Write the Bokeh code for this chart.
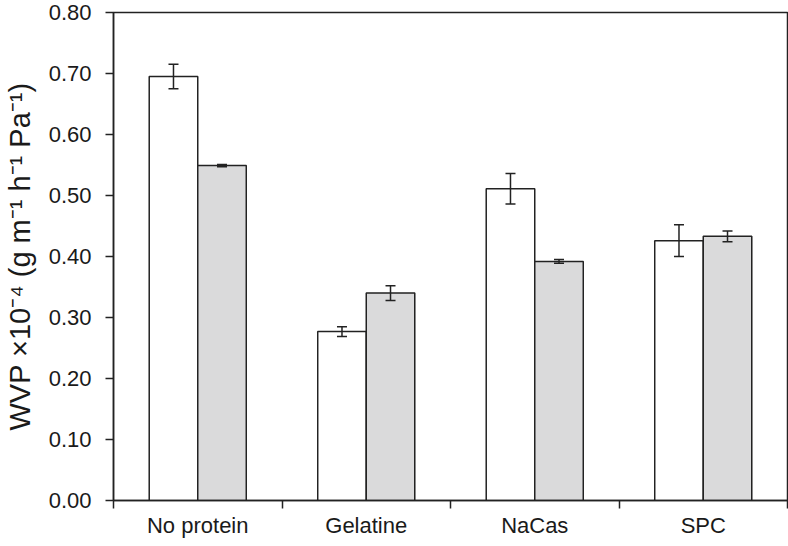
from bokeh.plotting import figure
from bokeh.models import (ColumnDataSource, Range1d, FixedTicker, NumeralTickFormatter,
                          Whisker, TeeHead)
from bokeh.embed import file_html
from bokeh.resources import INLINE

categories = ["No protein", "Gelatine", "NaCas", "SPC"]
white_vals = [0.695, 0.277, 0.511, 0.426]
white_err = [0.020, 0.008, 0.025, 0.026]
gray_vals = [0.549, 0.340, 0.392, 0.433]
gray_err = [0.002, 0.012, 0.003, 0.009]
y_ticks = [0.0, 0.1, 0.2, 0.3, 0.4, 0.5, 0.6, 0.7, 0.8]

FONT = "Liberation Sans"
BAR_W = 0.288
centers = [i + 0.5 for i in range(len(categories))]

p = figure(width=780, height=537, output_backend="svg", toolbar_location=None,
           x_range=Range1d(0, len(categories)), y_range=Range1d(0, 0.8),
           frame_width=674, frame_height=488,
           min_border_left=104, min_border_right=2, min_border_top=12, min_border_bottom=37)

p.outline_line_color = "#222222"
p.outline_line_width = 1.5
p.xgrid.visible = False
p.ygrid.visible = False
p.background_fill_color = "white"
p.border_fill_color = "white"

white_src = ColumnDataSource(dict(
    x=[c - BAR_W / 2 for c in centers], top=white_vals,
    upper=[v + e for v, e in zip(white_vals, white_err)],
    lower=[v - e for v, e in zip(white_vals, white_err)]))
gray_src = ColumnDataSource(dict(
    x=[c + BAR_W / 2 for c in centers], top=gray_vals,
    upper=[v + e for v, e in zip(gray_vals, gray_err)],
    lower=[v - e for v, e in zip(gray_vals, gray_err)]))

p.vbar(x="x", top="top", bottom=0, width=BAR_W, source=white_src,
       fill_color="white", line_color="#222222", line_width=1.5)
p.vbar(x="x", top="top", bottom=0, width=BAR_W, source=gray_src,
       fill_color="#dadadb", line_color="#222222", line_width=1.5)

for src in (white_src, gray_src):
    w = Whisker(base="x", upper="upper", lower="lower", source=src,
                line_color="#222222", line_width=1.5, level="overlay",
                upper_head=TeeHead(size=10, line_color="#222222", line_width=1.5),
                lower_head=TeeHead(size=10, line_color="#222222", line_width=1.5))
    p.add_layout(w)

# x axis: category labels at centres, tick marks at category boundaries
xa = p.xaxis[0]
xa.ticker = FixedTicker(ticks=centers, minor_ticks=list(range(len(categories) + 1)))
xa.major_label_overrides = {c: name for c, name in zip(centers, categories)}
xa.major_tick_out = 0
xa.major_tick_in = 0
xa.minor_tick_out = 8
xa.minor_tick_in = 0
xa.minor_tick_line_color = "#222222"
xa.minor_tick_line_width = 1.5
xa.axis_line_color = "#222222"
xa.axis_line_width = 1.5
xa.major_label_text_font = FONT
xa.major_label_text_font_size = "22px"
xa.major_label_text_color = "#1a1a1a"
xa.major_label_standoff = 4

ya = p.yaxis[0]
ya.ticker = FixedTicker(ticks=y_ticks, minor_ticks=[])
ya.formatter = NumeralTickFormatter(format="0.00")
ya.major_tick_out = 8
ya.major_tick_in = 0
ya.major_tick_line_color = "#222222"
ya.major_tick_line_width = 1.5
ya.axis_line_color = "#222222"
ya.axis_line_width = 1.5
ya.major_label_text_font = FONT
ya.major_label_text_font_size = "22px"
ya.major_label_text_color = "#1a1a1a"
ya.major_label_standoff = 14
ya.axis_label = "WVP \u00d710\u207b\u2074 (g m\u207b\u00b9 h\u207b\u00b9 Pa\u207b\u00b9)"
ya.axis_label_text_font = FONT
ya.axis_label_text_font_size = "29px"
ya.axis_label_text_font_style = "normal"
ya.axis_label_text_color = "#1a1a1a"
ya.axis_label_standoff = 10

open("out.html", "w").write(file_html(p, INLINE))
